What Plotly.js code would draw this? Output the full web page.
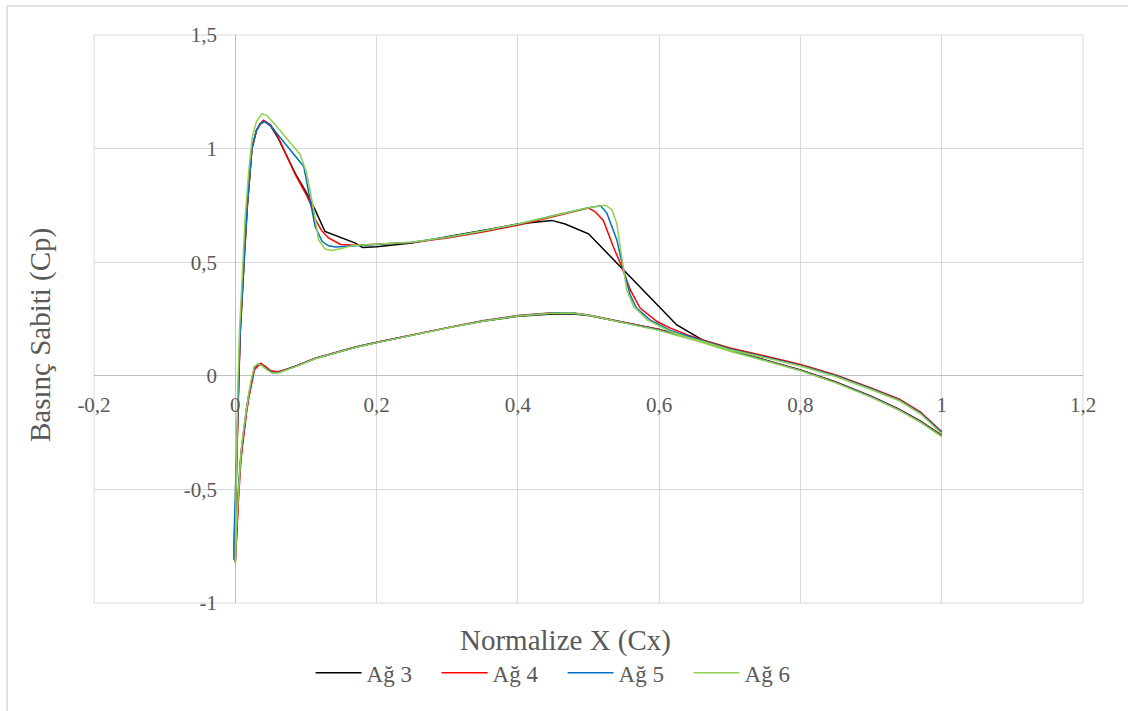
<!DOCTYPE html>
<html><head><meta charset="utf-8">
<script src="https://cdn.plot.ly/plotly-3.0.1.min.js"></script>
<style>html,body{margin:0;padding:0;background:#fff;} #chart{width:1128px;height:711px;}</style>
</head><body><div id="chart"></div>
<script>
// ---------- data ----------
var seriesNames = ['Ağ 3', 'Ağ 4', 'Ağ 5', 'Ağ 6'];

// Ağ 3 – upper surface (leading edge -> trailing edge)
var ag3UpperX = [0, 0.001, 0.003, 0.005, 0.007, 0.0095, 0.013, 0.017, 0.0235, 0.03, 0.036, 0.0415, 0.05, 0.06, 0.068, 0.085, 0.1, 0.113, 0.127, 0.146, 0.17, 0.18, 0.2, 0.25, 0.3, 0.35, 0.4, 0.448, 0.467, 0.5, 0.625, 0.663, 0.7, 0.75, 0.8, 0.85, 0.9, 0.94, 0.97, 1.0];
var ag3UpperY = [-0.82, -0.5, -0.2, 0.0, 0.2, 0.335, 0.55, 0.75, 1.0, 1.08, 1.11, 1.12, 1.1, 1.05, 1.0, 0.89, 0.81, 0.73, 0.635, 0.613, 0.584, 0.565, 0.568, 0.585, 0.612, 0.64, 0.668, 0.684, 0.668, 0.625, 0.224, 0.155, 0.12, 0.085, 0.048, 0.002, -0.056, -0.105, -0.162, -0.248];
// Ağ 3 – lower surface
var ag3LowerX = [0, 0.002, 0.005, 0.008, 0.012, 0.016, 0.019, 0.023, 0.027, 0.032, 0.038, 0.045, 0.052, 0.061, 0.075, 0.09, 0.113, 0.142, 0.17, 0.2, 0.25, 0.3, 0.35, 0.4, 0.45, 0.475, 0.5, 0.55, 0.6, 0.66, 0.7, 0.75, 0.8, 0.85, 0.9, 0.94, 0.97, 1.0];
var ag3LowerY = [-0.82, -0.66, -0.49, -0.35, -0.24, -0.15, -0.09, -0.02, 0.035, 0.05, 0.047, 0.03, 0.018, 0.016, 0.03, 0.048, 0.076, 0.102, 0.126, 0.147, 0.18, 0.211, 0.24, 0.262, 0.272, 0.273, 0.265, 0.235, 0.204, 0.152, 0.112, 0.07, 0.026, -0.027, -0.09, -0.148, -0.2, -0.262];

// Ağ 4
var ag4UpperX = [0, 0.001, 0.003, 0.005, 0.007, 0.0095, 0.013, 0.017, 0.0235, 0.03, 0.035, 0.04, 0.05, 0.06, 0.068, 0.085, 0.1, 0.106, 0.113, 0.122, 0.132, 0.149, 0.17, 0.2, 0.25, 0.3, 0.35, 0.4, 0.45, 0.5, 0.509, 0.521, 0.535, 0.547, 0.559, 0.573, 0.597, 0.616, 0.64, 0.663, 0.7, 0.75, 0.8, 0.85, 0.9, 0.94, 0.97, 1.0];
var ag4UpperY = [-0.82, -0.52, -0.22, -0.02, 0.18, 0.32, 0.53, 0.74, 1.0, 1.08, 1.11, 1.125, 1.105, 1.055, 1.0, 0.885, 0.8, 0.76, 0.69, 0.64, 0.607, 0.578, 0.575, 0.578, 0.587, 0.607, 0.633, 0.663, 0.7, 0.738, 0.723, 0.684, 0.569, 0.481, 0.379, 0.298, 0.239, 0.21, 0.18, 0.157, 0.122, 0.087, 0.05, 0.004, -0.053, -0.103, -0.16, -0.246];
var ag4LowerX = [0, 0.002, 0.005, 0.008, 0.012, 0.016, 0.019, 0.023, 0.027, 0.031, 0.036, 0.043, 0.05, 0.06, 0.075, 0.09, 0.113, 0.142, 0.17, 0.2, 0.25, 0.3, 0.35, 0.4, 0.45, 0.475, 0.5, 0.55, 0.6, 0.66, 0.7, 0.75, 0.8, 0.85, 0.9, 0.94, 0.97, 1.0];
var ag4LowerY = [-0.82, -0.68, -0.52, -0.37, -0.26, -0.16, -0.1, -0.03, 0.025, 0.04, 0.055, 0.04, 0.022, 0.018, 0.03, 0.048, 0.077, 0.103, 0.127, 0.148, 0.181, 0.212, 0.242, 0.265, 0.277, 0.278, 0.268, 0.236, 0.204, 0.151, 0.111, 0.069, 0.025, -0.028, -0.091, -0.149, -0.201, -0.263];

// Ağ 5
var ag5UpperX = [-0.002, 0.001, 0.003, 0.005, 0.007, 0.0095, 0.013, 0.017, 0.0235, 0.03, 0.036, 0.0415, 0.05, 0.06, 0.076, 0.088, 0.097, 0.104, 0.113, 0.123, 0.132, 0.142, 0.17, 0.2, 0.25, 0.3, 0.35, 0.4, 0.45, 0.5, 0.517, 0.526, 0.54, 0.549, 0.559, 0.568, 0.587, 0.616, 0.64, 0.663, 0.7, 0.75, 0.8, 0.85, 0.9, 0.94, 0.97, 1.0];
var ag5UpperY = [-0.73, -0.5, -0.2, 0.0, 0.2, 0.335, 0.55, 0.75, 1.0, 1.08, 1.11, 1.12, 1.1, 1.06, 1.0, 0.955, 0.921, 0.804, 0.657, 0.591, 0.572, 0.567, 0.572, 0.578, 0.588, 0.61, 0.637, 0.667, 0.705, 0.74, 0.748, 0.716, 0.599, 0.474, 0.356, 0.298, 0.246, 0.2, 0.175, 0.153, 0.118, 0.083, 0.046, 0.0, -0.057, -0.107, -0.164, -0.25];
var ag5LowerX = [-0.002, 0.002, 0.005, 0.008, 0.012, 0.016, 0.019, 0.023, 0.027, 0.032, 0.038, 0.045, 0.052, 0.061, 0.075, 0.09, 0.113, 0.142, 0.17, 0.2, 0.25, 0.3, 0.35, 0.4, 0.45, 0.475, 0.5, 0.55, 0.6, 0.66, 0.7, 0.75, 0.8, 0.85, 0.9, 0.94, 0.97, 1.0];
var ag5LowerY = [-0.81, -0.64, -0.47, -0.34, -0.23, -0.14, -0.085, -0.015, 0.038, 0.052, 0.046, 0.028, 0.015, 0.014, 0.029, 0.047, 0.076, 0.102, 0.126, 0.147, 0.18, 0.211, 0.241, 0.264, 0.276, 0.277, 0.267, 0.234, 0.202, 0.15, 0.11, 0.068, 0.024, -0.029, -0.092, -0.15, -0.203, -0.265];

// Ağ 6
var ag6UpperX = [0, 0.001, 0.002, 0.004, 0.006, 0.009, 0.014, 0.019, 0.024, 0.03, 0.0378, 0.045, 0.055, 0.066, 0.085, 0.092, 0.101, 0.111, 0.118, 0.127, 0.137, 0.15, 0.167, 0.2, 0.25, 0.3, 0.35, 0.4, 0.45, 0.5, 0.524, 0.533, 0.54, 0.547, 0.554, 0.564, 0.583, 0.616, 0.64, 0.663, 0.7, 0.75, 0.8, 0.85, 0.9, 0.94, 0.97, 1.0];
var ag6UpperY = [-0.82, -0.5, -0.3, 0.0, 0.2, 0.4, 0.7, 0.9, 1.05, 1.12, 1.153, 1.145, 1.11, 1.07, 1.0, 0.973, 0.893, 0.731, 0.598, 0.558, 0.552, 0.56, 0.574, 0.578, 0.588, 0.61, 0.637, 0.668, 0.705, 0.74, 0.751, 0.731, 0.672, 0.525, 0.379, 0.305, 0.246, 0.195, 0.17, 0.15, 0.115, 0.08, 0.043, -0.003, -0.06, -0.11, -0.167, -0.255];
var ag6LowerX = [0, 0.002, 0.005, 0.008, 0.012, 0.016, 0.019, 0.023, 0.027, 0.032, 0.038, 0.045, 0.052, 0.061, 0.075, 0.09, 0.113, 0.142, 0.17, 0.2, 0.25, 0.3, 0.35, 0.4, 0.45, 0.475, 0.5, 0.55, 0.6, 0.66, 0.7, 0.75, 0.8, 0.85, 0.9, 0.94, 0.97, 1.0];
var ag6LowerY = [-0.83, -0.65, -0.48, -0.34, -0.23, -0.14, -0.08, -0.01, 0.04, 0.052, 0.045, 0.026, 0.012, 0.012, 0.028, 0.046, 0.075, 0.101, 0.125, 0.146, 0.179, 0.21, 0.24, 0.263, 0.275, 0.276, 0.266, 0.233, 0.2, 0.148, 0.108, 0.066, 0.022, -0.031, -0.094, -0.152, -0.205, -0.268];

var seriesColors = ['#000000', '#ff0000', '#0070c0', '#92d050'];

var xTickVals = [-0.2, 0, 0.2, 0.4, 0.6, 0.8, 1, 1.2];
var xTickText = ['-0,2', '0', '0,2', '0,4', '0,6', '0,8', '1', '1,2'];
var yTickVals = [-1, -0.5, 0, 0.5, 1, 1.5];
var yTickText = ['-1', '-0,5', '0', '0,5', '1', '1,5'];

var xTitle = 'Normalize X (Cx)';
var yTitle = 'Basınç Sabiti (Cp)';

// ---------- build traces ----------
var uppers = [[ag3UpperX, ag3UpperY], [ag4UpperX, ag4UpperY], [ag5UpperX, ag5UpperY], [ag6UpperX, ag6UpperY]];
var lowers = [[ag3LowerX, ag3LowerY], [ag4LowerX, ag4LowerY], [ag5LowerX, ag5LowerY], [ag6LowerX, ag6LowerY]];

var traces = seriesNames.map(function (name, i) {
  // loop: trailing edge (upper) -> leading edge -> trailing edge (lower)
  var ux = uppers[i][0].slice().reverse(), uy = uppers[i][1].slice().reverse();
  return {
    type: 'scatter', mode: 'lines', name: name,
    x: ux.concat(lowers[i][0]), y: uy.concat(lowers[i][1]),
    line: {color: seriesColors[i], width: 1.5}
  };
});

var FONT = "'Liberation Serif', 'Times New Roman', serif";
var TXT = '#595959';
var GRID = '#d9d9d9';

var layout = {
  width: 1128, height: 711,
  margin: {l: 94, r: 45, t: 35, b: 108, pad: 0},
  paper_bgcolor: '#ffffff', plot_bgcolor: '#ffffff',
  font: {family: FONT, color: TXT},
  showlegend: true,
  xaxis: {
    range: [-0.2, 1.2], tickmode: 'array', tickvals: xTickVals, ticktext: xTickText,
    showgrid: true, gridcolor: GRID, gridwidth: 1,
    zeroline: true, zerolinecolor: '#bfbfbf', zerolinewidth: 1,
    showline: false, anchor: 'free', position: 0.4,
    ticks: 'outside', ticklen: 10, tickcolor: 'rgba(0,0,0,0)',
    tickfont: {family: FONT, size: 21, color: TXT},
    fixedrange: true
  },
  yaxis: {
    range: [-1, 1.5], tickmode: 'array', tickvals: yTickVals, ticktext: yTickText,
    showgrid: true, gridcolor: GRID, gridwidth: 1,
    zeroline: true, zerolinecolor: '#bfbfbf', zerolinewidth: 1,
    showline: false, anchor: 'free', position: 0.142857,
    ticks: 'outside', ticklen: 14, tickcolor: 'rgba(0,0,0,0)',
    tickfont: {family: FONT, size: 21, color: TXT},
    fixedrange: true
  },
  legend: {
    orientation: 'h', x: 0.219, xanchor: 'left', y: -0.123, yanchor: 'middle',
    font: {family: FONT, size: 23, color: TXT},
    itemwidth: 46, entrywidth: 65, bgcolor: 'rgba(0,0,0,0)'
  },
  annotations: [
    {text: xTitle, xref: 'paper', yref: 'paper', x: 0.4772, y: -0.0669, xanchor: 'center', yanchor: 'middle',
     showarrow: false, font: {family: FONT, size: 29, color: TXT}},
    {text: yTitle, xref: 'paper', yref: 'paper', x: -0.0546, y: 0.4718, xanchor: 'center', yanchor: 'middle',
     textangle: -90, showarrow: false, font: {family: FONT, size: 29, color: TXT}}
  ],
  shapes: [
    {type: 'rect', xref: 'paper', yref: 'paper', x0: 0, x1: 1, y0: 0, y1: 1, line: {color: GRID, width: 1}, layer: 'below'},
    {type: 'rect', xref: 'paper', yref: 'paper', x0: (7 - 94) / 989, x1: (1140 - 94) / 989, y0: (603 - 720) / 568, y1: (603 - 6) / 568,
     line: {color: GRID, width: 1.5}, layer: 'below'}
  ]
};

Plotly.newPlot('chart', traces, layout, {displayModeBar: false, staticPlot: true});
</script></body></html>
